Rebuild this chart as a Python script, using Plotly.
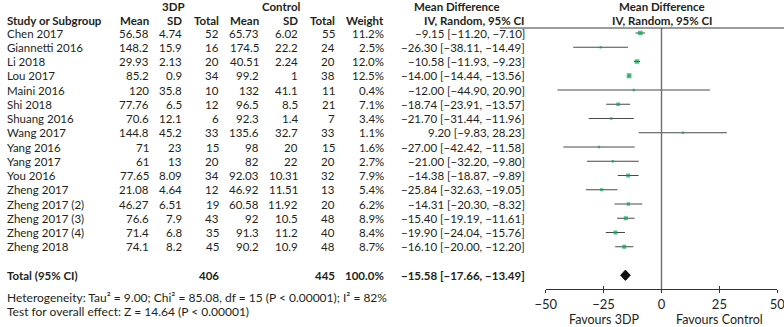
import plotly.graph_objects as go

# ---------------- data ----------------
studies = ["Chen 2017", "Giannetti 2016", "Li 2018", "Lou 2017", "Maini 2016", "Shi 2018",
           "Shuang 2016", "Wang 2017", "Yang 2016", "Yang 2017", "You 2016", "Zheng 2017",
           "Zheng 2017 (2)", "Zheng 2017 (3)", "Zheng 2017 (4)", "Zheng 2018"]
mean_3dp = [56.58, 148.2, 29.93, 85.2, 120, 77.76, 70.6, 144.8, 71, 61, 77.65, 21.08, 46.27, 76.6, 71.4, 74.1]
sd_3dp = [4.74, 15.9, 2.13, 0.9, 35.8, 6.5, 12.1, 45.2, 23, 13, 8.09, 4.64, 6.51, 7.9, 6.8, 8.2]
n_3dp = [52, 16, 20, 34, 10, 12, 6, 33, 15, 20, 34, 12, 19, 43, 35, 45]
mean_ctrl = [65.73, 174.5, 40.51, 99.2, 132, 96.5, 92.3, 135.6, 98, 82, 92.03, 46.92, 60.58, 92, 91.3, 90.2]
sd_ctrl = [6.02, 22.2, 2.24, 1, 41.1, 8.5, 1.4, 32.7, 20, 22, 10.31, 11.51, 11.92, 10.5, 11.2, 10.9]
n_ctrl = [55, 24, 20, 38, 11, 21, 7, 33, 15, 20, 32, 13, 20, 48, 40, 48]
weight = [11.2, 2.5, 12.0, 12.5, 0.4, 7.1, 3.4, 1.1, 1.6, 2.7, 7.9, 5.4, 6.2, 8.9, 8.4, 8.7]
md = [-9.15, -26.30, -10.58, -14.00, -12.00, -18.74, -21.70, 9.20, -27.00, -21.00, -14.38,
      -25.84, -14.31, -15.40, -19.90, -16.10]
ci_lo = [-11.20, -38.11, -11.93, -14.44, -44.90, -23.91, -31.44, -9.83, -42.42, -32.20, -18.87,
         -32.63, -20.30, -19.19, -24.04, -20.00]
ci_hi = [-7.10, -14.49, -9.23, -13.56, 20.90, -13.57, -11.96, 28.23, -11.58, -9.80, -9.89,
         -19.05, -8.32, -11.61, -15.76, -12.20]
total_n_3dp = 406
total_n_ctrl = 445
total_weight = 100.0
total_md = -15.58
total_lo = -17.66
total_hi = -13.49
heterogeneity_text = "Heterogeneity: Tau² = 9.00; Chi² = 85.08, df = 15 (P &lt; 0.00001); I² = 82%"
overall_text = "Test for overall effect: Z = 14.64 (P &lt; 0.00001)"
x_ticks = [-50, -25, 0, 25, 50]

# ---------------- layout constants ----------------
W, H = 784, 327
FONT = "Lato, 'Open Sans', sans-serif"
TXT = "#231f20"
FS = 11.5        # table text
FS_FOOT = 12     # footnotes
FS_AX = 12.5     # axis texts
ROW0_PX, PITCH = 33.0, 14.25
y_top = (0 - ROW0_PX) / PITCH
y_bot = (H - ROW0_PX) / PITCH


def px(x):
    return x / W


def prow(p):
    return (p - ROW0_PX) / PITCH


def fmt(v):
    return f"{v:.2f}".replace("-", "\u2212")


def ci_str(m, lo, hi):
    return f"{fmt(m)} [{fmt(lo)}, {fmt(hi)}]"


rows = list(range(len(studies)))
total_row = len(studies) + 1

fig = go.Figure()

# CI whiskers
xs, ys = [], []
for r, lo, hi in zip(rows, ci_lo, ci_hi):
    xs += [lo, hi, None]
    ys += [r, r, None]
fig.add_trace(go.Scatter(x=xs, y=ys, mode="lines", line=dict(color="#4a4a4a", width=1.2),
                         hoverinfo="skip", showlegend=False))

# squares
sizes = [max(2.3, 1.35 * w ** 0.5) for w in weight]
fig.add_trace(go.Scatter(x=md, y=rows, mode="markers",
                         marker=dict(symbol="square", size=sizes, color="#00a651", line=dict(width=0)),
                         showlegend=False))

# diamond
dh = 0.36
fig.add_trace(go.Scatter(x=[total_lo, total_md, total_hi, total_md, total_lo],
                         y=[total_row, total_row - dh, total_row, total_row + dh, total_row],
                         mode="lines", fill="toself", fillcolor="#111111",
                         line=dict(color="#111111", width=1), showlegend=False))

# zero line
fig.add_shape(type="line", xref="x", yref="y", x0=0, x1=0, y0=prow(28), y1=prow(289),
              line=dict(color="#6e6e6e", width=1.4))
# header rule
fig.add_shape(type="line", xref="paper", yref="y", x0=px(500), x1=1, y0=prow(28), y1=prow(28),
              line=dict(color="#3a3a3a", width=1))

ann = []


def add(text, xpx, row, anchor="right", bold=False, size=FS):
    t = f"<b>{text}</b>" if bold else text
    ann.append(dict(text=t, x=px(xpx), xref="paper", y=row, yref="y", xanchor=anchor,
                    yanchor="middle", showarrow=False, font=dict(family=FONT, size=size, color=TXT)))


# column right edges (px)
c_study, c_m3, c_s3, c_n3, c_mc, c_sc, c_nc, c_w, c_ci = 5, 151, 184, 221, 261, 300, 337, 386, 527

# headers
hr1, hr2 = prow(6.5), prow(20)
add("3DP", 173, hr1, "center", True)
add("Control", 281, hr1, "center", True)
add("Mean Difference", 457, hr1, "center", True)
add("Mean Difference", 662, hr1, "center", True)
add("Study or Subgroup", c_study, hr2, "left", True)
for lab, xx in [("Mean", c_m3), ("SD", c_s3), ("Total", c_n3), ("Mean", c_mc), ("SD", c_sc),
                ("Total", c_nc), ("Weight", c_w), ("IV, Random, 95% CI", c_ci)]:
    add(lab, xx, hr2, "right", True)
add("IV, Random, 95% CI", 662, hr2, "center", True)

# study rows
for i, r in enumerate(rows):
    add(studies[i], c_study, r, "left")
    add(f"{mean_3dp[i]:g}", c_m3, r)
    add(f"{sd_3dp[i]:g}", c_s3, r)
    add(f"{n_3dp[i]}", c_n3, r)
    add(f"{mean_ctrl[i]:g}", c_mc, r)
    add(f"{sd_ctrl[i]:g}", c_sc, r)
    add(f"{n_ctrl[i]}", c_nc, r)
    add(f"{weight[i]:.1f}%", c_w, r)
    add(ci_str(md[i], ci_lo[i], ci_hi[i]), c_ci, r)

# total row
add("Total (95% CI)", c_study, total_row, "left", True)
add(f"{total_n_3dp}", c_n3, total_row, "right", True)
add(f"{total_n_ctrl}", c_nc, total_row, "right", True)
add(f"{total_weight:.1f}%", c_w, total_row, "right", True)
add(ci_str(total_md, total_lo, total_hi), c_ci, total_row, "right", True)
add(heterogeneity_text, c_study, prow(297), "left", size=FS_FOOT)
add(overall_text, c_study, prow(311), "left", size=FS_FOOT)

# favours labels
for xv, lab in [(-25, "Favours 3DP"), (25, "Favours Control")]:
    ann.append(dict(text=lab, x=xv, xref="x", y=prow(319), yref="y", xanchor="center",
                    yanchor="middle", showarrow=False, font=dict(family=FONT, size=FS_AX, color=TXT)))

axis_pos = 1 - 289 / H
fig.update_layout(
    width=W, height=H, autosize=False,
    margin=dict(l=0, r=0, t=0, b=0),
    paper_bgcolor="white", plot_bgcolor="white",
    font=dict(family=FONT, size=FS, color=TXT),
    annotations=ann,
    xaxis=dict(domain=[545.7 / W, 777.3 / W], range=[-50, 50], anchor="free", position=axis_pos,
               automargin=False,
               showline=True, linecolor="#333333", linewidth=1, showgrid=False, zeroline=False,
               ticks="outside", ticklen=3, tickcolor="#333333", tickwidth=1,
               tickvals=x_ticks, ticktext=[str(t).replace("-", "\u2212") for t in x_ticks],
               ticklabeloverflow="allow",
               tickfont=dict(family=FONT, size=13, color=TXT)),
    xaxis2=dict(domain=[545.7 / W, 777.3 / W], range=[-50, 50], anchor="free", position=axis_pos,
                automargin=False,
                overlaying="x", showline=False, showgrid=False, zeroline=False,
                ticks="inside", ticklen=3, tickcolor="#333333", tickwidth=1,
                tickvals=x_ticks, showticklabels=False),
    yaxis=dict(domain=[0, 1], range=[y_bot, y_top], visible=False, automargin=False),
)
# dummy trace to activate xaxis2
fig.add_trace(go.Scatter(x=[None], y=[None], xaxis="x2", showlegend=False))

fig.write_html(
    "out.html", config={"displayModeBar": False},
    post_script=("document.body.style.margin='0';document.body.style.overflow='hidden';"
                 "document.documentElement.style.overflow='hidden';"))
